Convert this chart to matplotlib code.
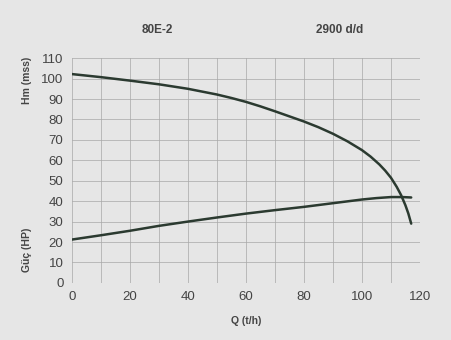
import matplotlib
matplotlib.use("Agg")
import matplotlib.pyplot as plt
from matplotlib.ticker import MultipleLocator

# head curve Hm (mss) vs Q (t/h)
q_head = [0, 10, 20, 30, 40, 50, 55, 60, 65, 70, 75, 80, 85, 90, 95, 100,
          103, 106, 108, 110, 112, 113.5, 115, 116, 117]
hm = [102.2, 100.7, 99.0, 97.2, 95.0, 92.2, 90.5, 88.6, 86.4, 84.0, 81.5, 79.0,
      76.2, 73.0, 69.3, 65.0, 61.8, 58.0, 55.0, 51.5, 47.0, 43.0, 38.0, 34.0, 29.0]

# power curve Güç (HP) vs Q (t/h)
q_pow = [0, 10, 20, 30, 40, 50, 60, 70, 80, 90, 100, 105, 110, 114, 117]
guc = [21.2, 23.3, 25.5, 27.9, 30.0, 32.0, 33.9, 35.6, 37.2, 39.0, 40.8, 41.5, 42.0, 42.0, 41.8]

BG = "#e6e6e6"
LINE = "#2b3a30"
TXT = "#444444"

plt.rcParams.update({
    "font.family": ["Liberation Sans", "DejaVu Sans"],
    "font.size": 9,
})

fig = plt.figure(figsize=(4.52, 3.4), dpi=100, facecolor=BG)
ax = fig.add_axes([0.159, 0.168, 0.77, 0.661], facecolor=BG)

ax.plot(q_head, hm, color=LINE, linewidth=1.8, solid_capstyle="round")
ax.plot(q_pow, guc, color=LINE, linewidth=1.8, solid_capstyle="round")

ax.set_xlim(0, 120)
ax.set_ylim(0, 110)
ax.xaxis.set_major_locator(MultipleLocator(20))
ax.xaxis.set_minor_locator(MultipleLocator(10))
ax.yaxis.set_major_locator(MultipleLocator(10))
ax.grid(which="both", color="#a8a8a8", linewidth=0.5)
ax.set_axisbelow(True)
for s in ax.spines.values():
    s.set_visible(False)
ax.tick_params(axis="both", which="both", length=0, colors=TXT, labelsize=9.5, pad=6)

ax.set_xlabel("Q (t/h)", fontsize=7.5, fontweight="bold", color=TXT, labelpad=9)

fig.text(0.059, 0.765, "Hm (mss)", rotation=90, ha="center", va="center",
         fontsize=7.5, fontweight="bold", color=TXT)
fig.text(0.059, 0.265, "Güç (HP)", rotation=90, ha="center", va="center",
         fontsize=7.5, fontweight="bold", color=TXT)

fig.text(157 / 452, 1 - 30 / 340, "80E-2", ha="center", va="center",
         fontsize=8.5, fontweight="bold", color=TXT)
fig.text(340 / 452, 1 - 30 / 340, "2900 d/d", ha="center", va="center",
         fontsize=8.5, fontweight="bold", color=TXT)

fig.savefig("out.png", dpi=100, facecolor=BG)
